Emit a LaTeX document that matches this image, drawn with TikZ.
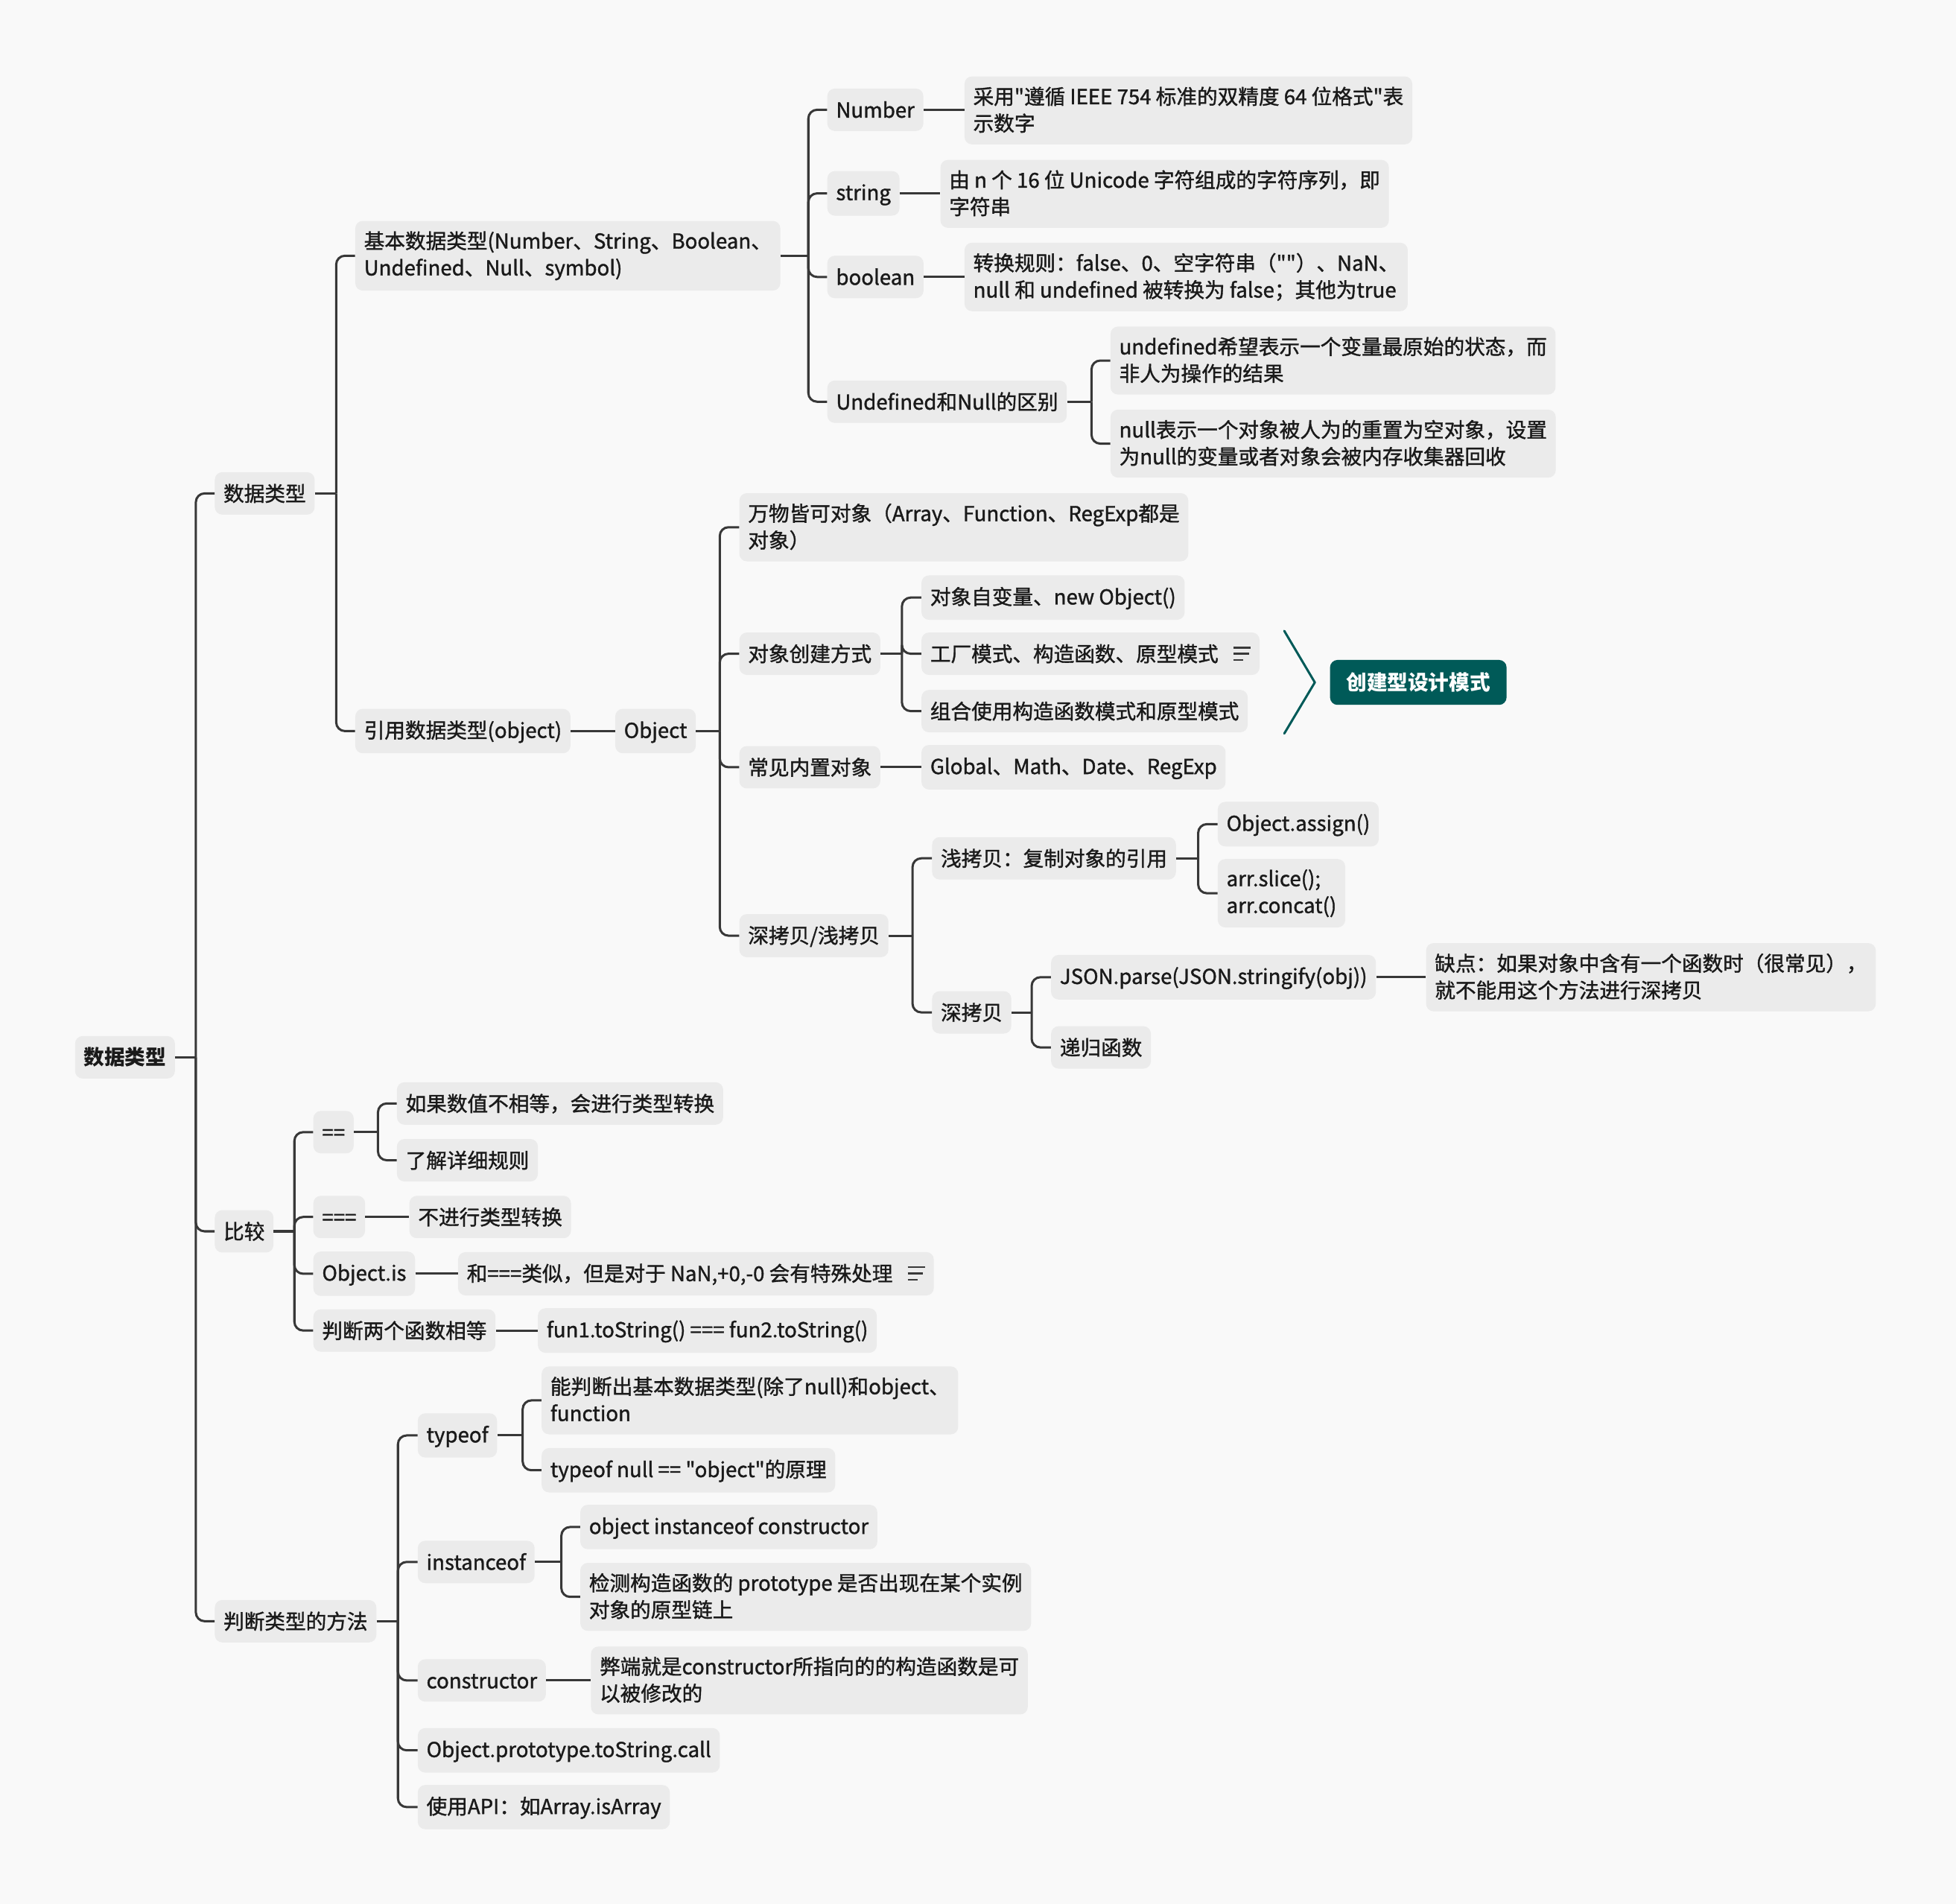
\documentclass[tikz,border=0pt]{standalone}
\usepackage{fontspec}
\setmainfont{Noto Sans CJK SC}[Ligatures=TeXOff]
\newfontfamily\medfont{Noto Sans CJK SC}[Ligatures=TeXOff, FakeBold=1.3]
\usetikzlibrary{calc}

\definecolor{pagebg}{HTML}{F9F9F9}
\definecolor{boxfill}{HTML}{EBEBEB}
\definecolor{linkcol}{HTML}{383838}
\definecolor{inkcol}{HTML}{1A1A1A}
\definecolor{sumteal}{HTML}{005A58}

% strut giving every text line the same height and depth
\newcommand\lnstrut{\rule[-2.4pt]{0pt}{17.4pt}}
% small "note" marker shown at the end of some topics
\newcommand\noteicon{{\color{linkcol}\raisebox{0.5pt}{\vbox{\hrule width 14pt height 1.5pt\vskip 3.5pt\hrule width 12.5pt height 1.5pt\vskip 3.5pt\hrule width 8pt height 1.5pt}}}}
% parent -> junction x -> list of children
\newcommand\fork[3]{%
  \draw[link] (#1.east) -- (#1.east -| #2,0);
  \foreach \c in {#3} {\draw[link] (#1.east -| #2,0) |- (\c.west);}
}
\newcommand\join[2]{\draw[link] (#1.east) -- (#1.east -| #2.west);}

\tikzset{
  topic/.style={anchor=west, fill=boxfill, rounded corners=6pt,
    inner xsep=7pt, inner ysep=8.3pt, align=left, text=inkcol,
    font=\medfont\fontsize{16.5}{21.5}\selectfont, execute at begin node=\lnstrut},
  roottopic/.style={topic, font=\fontsize{16.5}{21.5}\selectfont\bfseries},
  summary/.style={anchor=west, fill=sumteal, rounded corners=6pt,
    inner xsep=13pt, inner ysep=9.3pt, text=white,
    font=\fontsize{16.5}{21.5}\selectfont\bfseries, execute at begin node=\lnstrut},
  link/.style={draw=linkcol, line width=1.8pt, rounded corners=7pt},
  bracket/.style={draw=sumteal, line width=1.8pt, line join=round, line cap=round},
}

\begin{document}
\begin{tikzpicture}[x=1pt, y=-1pt]
\fill[pagebg] (0,0) rectangle (1568,1526);
\useasboundingbox (0,0) rectangle (1568,1526);

% root and first level
\node[roottopic] (root) at (60,847.5) {数据类型};
\node[topic] (dt)  at (172,395.5) {数据类型};
\node[topic] (cmp) at (172,987) {比较};
\node[topic] (chk) at (172,1299.5) {判断类型的方法};

% data types
\node[topic] (basic) at (284.6,205) {基本数据类型(Number、String、Boolean、\\\lnstrut Undefined、Null、symbol)};
\node[topic] (ref) at (284.6,586) {引用数据类型(object)};

\node[topic] (num)  at (663,88)  {Number};
\node[topic] (str)  at (663,155) {string};
\node[topic] (bool) at (663,222) {boolean};
\node[topic] (un)   at (663,322) {Undefined和Null的区别};

\node[topic] (numd)  at (773,88.5) {采用"遵循 IEEE 754 标准的双精度 64 位格式"表\\\lnstrut 示数字};
\node[topic] (strd)  at (753.7,155.4) {由 n 个 16 位 Unicode 字符组成的字符序列，即\\\lnstrut 字符串};
\node[topic] (boold) at (773,222) {转换规则：false、0、空字符串（""）、NaN、\\\lnstrut null 和 undefined 被转换为 false；其他为true};
\node[topic] (und1)  at (890,289) {undefined希望表示一个变量最原始的状态，而\\\lnstrut 非人为操作的结果};
\node[topic] (und2)  at (890,355.6) {null表示一个对象被人为的重置为空对象，设置\\\lnstrut 为null的变量或者对象会被内存收集器回收};

\node[topic] (obj) at (493,586) {Object};
\node[topic] (all)     at (592.5,422.6) {万物皆可对象（Array、Function、RegExp都是\\\lnstrut 对象）};
\node[topic] (create)  at (592.5,524) {对象创建方式};
\node[topic] (builtin) at (592.5,615) {常见内置对象};
\node[topic] (copy)    at (592.5,750) {深拷贝/浅拷贝};

\node[topic] (c1) at (738.5,479) {对象自变量、new Object()};
\node[topic] (c2) at (738.5,524) {工厂模式、构造函数、原型模式\hspace{12pt}\noteicon};
\node[topic] (c3) at (738.5,570) {组合使用构造函数模式和原型模式};
\node[summary] (pattern) at (1066,547) {创建型设计模式};
\coordinate (brTop) at (1029.5,505.7);
\coordinate (brTip) at (1054,547);
\coordinate (brBot) at (1029.5,588);

\node[topic] (bi) at (738.5,615) {Global、Math、Date、RegExp};

\node[topic] (shallow) at (747,688) {浅拷贝：复制对象的引用};
\node[topic] (deep)    at (747,811.5) {深拷贝};
\node[topic] (sa) at (976,660.6) {Object.assign()};
\node[topic] (sb) at (976,716) {arr.slice();\\\lnstrut arr.concat()};
\node[topic] (json)  at (842.4,783.3) {JSON.parse(JSON.stringify(obj))};
\node[topic] (rec)   at (842.4,839.6) {递归函数};
\node[topic] (jsond) at (1143,783.3) {缺点：如果对象中含有一个函数时（很常见），\\\lnstrut 就不能用这个方法进行深拷贝};

% comparison
\node[topic] (eq)  at (251,907.5) {==};
\node[topic] (seq) at (251,975.5) {===};
\node[topic] (ois) at (251,1021) {Object.is};
\node[topic] (fn)  at (251,1066.5) {判断两个函数相等};
\node[topic] (eq1) at (318,884.5) {如果数值不相等，会进行类型转换};
\node[topic] (eq2) at (318,930) {了解详细规则};
\node[topic] (seqd) at (328,975.5) {不进行类型转换};
\node[topic] (oisd) at (367,1021) {和===类似，但是对于 NaN,+0,-0 会有特殊处理\hspace{12pt}\noteicon};
\node[topic] (fnd)  at (431,1066.5) {fun1.toString() === fun2.toString()};

% type checks
\node[topic] (tof) at (334.7,1150.6) {typeof};
\node[topic] (ins) at (334.7,1252) {instanceof};
\node[topic] (con) at (334.7,1347) {constructor};
\node[topic] (ots) at (334.7,1403) {Object.prototype.toString.call};
\node[topic] (api) at (334.7,1448.5) {使用API：如Array.isArray};
\node[topic] (tof1) at (434,1122.5) {能判断出基本数据类型(除了null)和object、\\\lnstrut function};
\node[topic] (tof2) at (434,1178.5) {typeof null == "object"的原理};
\node[topic] (ins1) at (465,1224) {object instanceof constructor};
\node[topic] (ins2) at (465,1280) {检测构造函数的 prototype 是否出现在某个实例\\\lnstrut 对象的原型链上};
\node[topic] (cond) at (473.5,1347) {弊端就是constructor所指向的的构造函数是可\\\lnstrut 以被修改的};

% connectors
\fork{root}{157}{dt,cmp,chk}
\fork{dt}{269.5}{basic,ref}
\fork{basic}{648}{num,str,bool,un}
\join{num}{numd}
\join{str}{strd}
\join{bool}{boold}
\fork{un}{875}{und1,und2}
\join{ref}{obj}
\fork{obj}{577}{all,create,builtin,copy}
\fork{create}{723}{c1,c2,c3}
\join{builtin}{bi}
\fork{copy}{731.5}{shallow,deep}
\fork{shallow}{960.5}{sa,sb}
\fork{deep}{827}{json,rec}
\join{json}{jsond}
\fork{cmp}{236}{eq,seq,ois,fn}
\fork{eq}{303}{eq1,eq2}
\join{seq}{seqd}
\join{ois}{oisd}
\join{fn}{fnd}
\fork{chk}{319}{tof,ins,con,ots,api}
\fork{tof}{419}{tof1,tof2}
\fork{ins}{450}{ins1,ins2}
\join{con}{cond}

% summary bracket
\draw[bracket] (brTop) -- (brTip) -- (brBot);
\end{tikzpicture}
\end{document}
